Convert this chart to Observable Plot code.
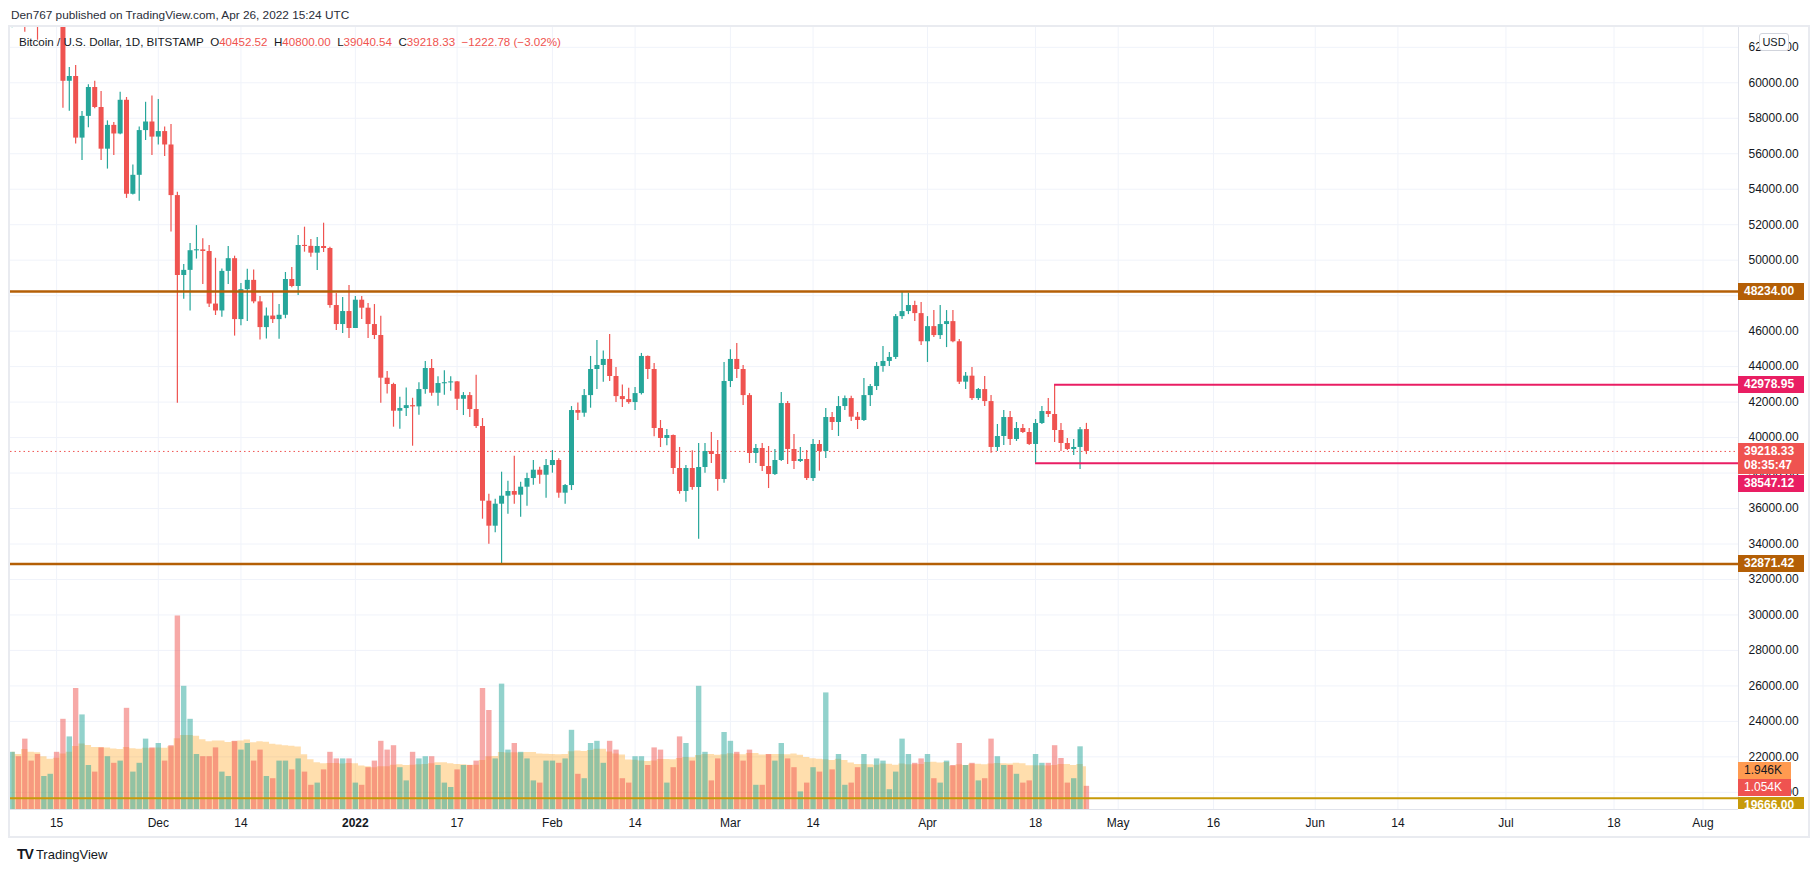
<!DOCTYPE html>
<html><head><meta charset="utf-8">
<script src="https://cdn.jsdelivr.net/npm/d3@7"></script>
<script src="https://cdn.jsdelivr.net/npm/@observablehq/plot@0.6"></script>
<style>
body{margin:0;background:#fff;font-family:"Liberation Sans",Arial,sans-serif;color:#131722}
#wrap{position:relative;width:1818px;height:872px;overflow:hidden;background:#fff}
#box{position:absolute;left:8px;top:25px;width:1802px;height:813px;border:2px solid #e9ebf0;box-sizing:border-box}
#chart{position:absolute;left:0;top:0}
#hdr{position:absolute;left:11px;top:7px;font-size:11.8px;line-height:16px;color:#2a2e39;white-space:nowrap}
#legend{position:absolute;left:19px;top:34px;font-size:11.6px;line-height:16px;color:#131722;white-space:nowrap}
#legend .r{color:#ef5350}
#usd{position:absolute;left:1759px;top:33px;width:28px;height:16px;border:1px solid #d1d4dc;border-radius:3px;background:#fff;font-size:11px;line-height:16px;text-align:center;color:#131722}
.badge{position:absolute;left:1738px;height:17px;font-size:12px;line-height:17px;font-weight:bold;color:#fff;padding-left:6px;box-sizing:border-box;white-space:nowrap;overflow:hidden}
#logo{position:absolute;left:17px;top:846px;font-size:13px;line-height:16px;color:#131722;white-space:nowrap}
#logo b{font-size:14px;letter-spacing:-1px;margin-right:3px}
</style></head><body>
<div id="wrap">
<div id="box"></div>
<div id="chart"></div>
<div id="hdr">Den767 published on TradingView.com, Apr 26, 2022 15:24 UTC</div>
<div id="legend"></div>
<div id="usd">USD</div>
<div id="logo"><b>TV</b>TradingView</div>
</div>
<script>
// ---- data (Bitcoin / USD, 1D, Bitstamp), 2021-11-08 .. 2022-04-26 ----
const open = [63300,67550,66950,64900,64800,64150,64400,65500,63600,60085,60355,56882,58106,59735,58608,56257,57599,57114,59014,53715,54784,57306,57790,
56938,57250,56494,53641,49137,49425,50534,50580,50490,47526,47137,49368,50084,46651,48337,48862,47650,46200,46850,46650,46894,48911,48517,50827,50780,50394,50770,50657,47443,46372,47105,
46147,47744,47293,46372,45754,43347,42990,41486,41636,41800,41730,42706,43893,42499,43046,43080,43140,42160,42367,41580,40624,36413,35004,36245,36696,36959,36752,37202,37690,38160,37878,
38423,38707,36865,37296,41524,41373,42367,43837,44065,44404,43442,42311,42141,41974,42480,44573,43837,40510,39946,40115,38256,36959,38256,37184,38312,39216,39047,37634,
43160,44404,43837,42367,39103,39385,38369,37916,38707,41918,39329,38650,38763,37690,39611,39216,41130,40850,41749,42198,41148,40962,42367,42876,44009,44291,44516,46818,47103,47443,46989,
45401,46255,45750,46372,46537,45401,43122,43461,42198,42706,42029,39442,40059,41130,39893,40510,40285,39611,40793,41468,41299,40397,39667,39329,39442,40452.52];
const high = [67800,68500,69000,65600,65450,64900,65500,66300,63600,60862,60975,58377,59887,60085,59503,57852,57756,59461,59171,55366,57502,58901,59250,
59053,57502,57655,53833,49757,50941,51949,51212,50823,50107,49504,50766,50225,48686,49485,49450,47950,47300,48177,47500,49306,49588,51391,51861,51166,51278,52085,50733,48121,47894,48572,
47950,47950,47556,47500,46838,43723,43065,42273,42800,42216,43085,44291,44404,43423,43760,43423,43160,42537,42537,43517,41073,36807,36527,38048,37540,38950,37484,37992,38707,38330,38763,
39272,38803,37352,41749,41955,42706,44573,45476,44874,45814,43950,42970,42782,42820,44743,44600,44178,40962,40454,40150,39442,38423,39253,39667,39667,40285,39836,44235,
44950,45306,44065,42480,39611,39667,39498,39329,42537,42029,40172,39442,39272,39893,39836,41636,41412,42311,42349,42330,41412,43329,42989,44235,45138,44799,46932,48197,48140,47688,47613,
46818,47160,47443,47160,47160,45523,43668,43950,42763,43442,42367,40736,41524,41468,40849,40736,40510,41017,41749,42198,42978.95,40792,39949,39893,40566,40800];
const low = [63100,66300,62850,64100,62400,63400,63600,63500,58568,58394,56550,55620,57463,58530,55620,55135,55907,57074,53483,53675,53326,56747,55907,
56494,55851,51584,41933,47796,47137,50062,48630,47329,46882,46787,48630,45720,46302,46550,47550,45500,45550,46428,45546,46700,48441,48009,50451,50169,49418,50432,47293,46034,45866,45584,
46147,46654,45584,45528,41934,42450,40585,40472,41185,39513,41260,42443,42330,41768,42386,42612,41524,41242,41129,40510,35399,33989,34629,32884,35681,36245,35512,36133,37315,37371,36583,
37992,36583,36245,37014,40962,41148,41655,42706,43122,43160,41974,41693,41880,41524,42400,43273,40041,39442,39536,37916,36809,36358,37033,34271,37992,38537,36978,37428,
42820,43329,41806,38537,38537,38086,37127,37860,38650,38480,38199,38593,37578,37522,38105,38820,40397,40059,41524,40906,40454,40906,41749,42650,43685,44009,44404,46650,46932,46537,45194,
44235,45636,45523,45073,45350,42989,42707,42085,42085,41749,39122,39216,39555,39555,39780,40228,39555,38547.12,40736,41130,39723,39216,39272,38988,38199,39040.54];
const close = [67550,66950,64900,64800,64150,64400,65500,63600,60085,60355,56882,58106,59735,58608,56257,57599,57114,59014,53715,54784,57306,57790,56938,
57250,56494,53641,49137,49425,50534,50580,50490,47526,47137,49368,50084,46651,48337,48862,47650,46200,46850,46650,46894,48911,48517,50827,50780,50394,50770,50657,47443,46372,47105,46147,
47744,47293,46372,45754,43347,42990,41486,41636,41800,41730,42706,43893,42499,43046,43080,43140,42160,42367,41580,40624,36413,35004,36245,36696,36959,36752,37202,37690,38160,37878,38423,
38707,36865,37296,41524,41373,42367,43837,44065,44404,43442,42311,42141,41974,42480,44573,43837,40510,39946,40115,38256,36959,38256,37184,38312,39216,39047,37634,43160,
44404,43837,42367,39103,39385,38369,37916,38707,41918,39329,38650,38763,37690,39611,39216,41130,40850,41749,42198,41148,40962,42367,42876,44009,44291,44516,46818,47103,47443,46989,45401,
46255,45750,46372,46537,45401,43122,43461,42198,42706,42029,39442,40059,41130,39893,40510,40285,39611,40793,41468,41299,40397,39667,39329,39442,40441.11,39218.33];
// volume, thousand BTC (one row per week, Mon..Sun)
const volume = [
2.6,2.4,3.2,2.2,2.5,1.5,1.6,
2.6,4.1,3.3,5.5,4.3,2.0,1.7,
2.8,2.4,2.1,2.2,4.6,1.7,2.1,
3.2,2.8,3.0,2.2,2.9,8.8,5.6,
4.1,2.5,2.4,2.4,2.8,1.7,1.5,
3.1,2.7,3.0,2.2,2.7,1.5,1.4,
2.2,2.2,1.8,2.3,1.7,1.1,1.2,
1.8,2.6,2.3,2.3,2.3,1.2,1.1,
1.9,2.2,3.1,2.7,2.9,1.9,1.3,
2.6,2.3,2.4,2.4,2.0,1.2,1.0,
1.8,2.0,2.0,2.2,5.5,4.5,2.3,
5.7,2.7,3.0,2.6,2.3,1.3,1.2,
2.2,2.2,2.1,2.3,3.6,1.6,1.4,
3.0,3.1,2.1,3.1,2.7,1.4,1.2,
2.4,2.4,2.0,2.8,2.7,1.2,1.9,
3.3,3.0,2.2,5.6,2.6,1.3,2.3,
3.5,3.1,2.6,2.2,2.7,1.1,1.1,
2.5,2.2,3.0,2.3,1.9,0.8,1.2,
1.9,1.7,5.3,1.8,2.5,1.1,1.2,
1.9,2.5,1.9,2.3,2.2,0.9,1.7,
3.2,2.5,2.1,2.3,2.5,1.4,1.2,
2.2,2.0,3.0,2.0,2.1,1.3,1.4,
3.2,2.4,2.0,2.0,1.6,1.2,1.3,
2.5,2.1,2.1,2.9,2.32,1.2,1.4,
2.85,1.054];

const priceTicks = d3.range(20000, 62001, 2000);
const xTickDates = ["2021-11-15","2021-12-01","2021-12-14","2022-01-01","2022-01-17","2022-02-01","2022-02-14","2022-03-01","2022-03-14","2022-04-01","2022-04-18","2022-05-01","2022-05-16","2022-06-01","2022-06-14","2022-07-01","2022-07-18","2022-08-01"];
const xTickLabels = ["15","Dec","14","2022","17","Feb","14","Mar","14","Apr","18","May","16","Jun","14","Jul","18","Aug"];
const levels = [48234.00, 32871.42, 19666.00];
const zoneHigh = {value: 42978.95, from: "2022-04-21"};
const zoneLow = {value: 38547.12, from: "2022-04-18"};
const lastPrice = 39218.33;
const countdown = "08:35:47";
const maLength = 20;

// ---- build table ----
const dates = d3.utcDay.range(new Date(Date.UTC(2021,10,8)), new Date(Date.UTC(2022,3,27)));
const data = dates.map((date,i)=>({date, o:open[i], h:high[i], l:low[i], c:close[i], v:volume[i], up: close[i]>=open[i]}));
const MINB = 30;
data.forEach(d=>{ let a=Math.min(d.o,d.c), b=Math.max(d.o,d.c); if(b-a<2*MINB){const m=(a+b)/2; a=m-MINB; b=m+MINB;} d.b1=a; d.b2=b; });
// volume moving average indicator
data.forEach((d,i)=>{ const s=data.slice(Math.max(0,i-maLength+1),i+1); d.ma=d3.mean(s,e=>e.v); });
const volumeMA = data[data.length-1].ma;

const DAY=864e5, dec1=Date.UTC(2021,11,1);
const xDomain=[new Date(dec1-23.25*DAY), new Date(dec1+248.58*DAY)];
const yDomain=[19033, 63117];
// volume overlay in the price pane: thousand BTC -> price-space
const VBASE=19033, VK=1240;
const vy = v => VBASE + v*VK;

const UP="#26a69a", DN="#ef5350";
const ticks = xTickDates.map((s,i)=>({date:new Date(s), label:xTickLabels[i]}));
const chart = Plot.plot({
  width:1818, height:872, marginLeft:10, marginRight:80, marginTop:27, marginBottom:63,
  x:{type:"utc", domain:xDomain, axis:null},
  y:{type:"linear", domain:yDomain, axis:null},
  style:{fontFamily:"Liberation Sans, Arial, sans-serif", fontSize:"12px", color:"#131722", background:"transparent"},
  marks:[
    Plot.gridY(priceTicks,{stroke:"#f0f3fa", strokeOpacity:1}),
    Plot.gridX(ticks.map(d=>d.date),{stroke:"#f0f3fa", strokeOpacity:1}),
    // volume MA area + volume bars
    Plot.areaY(data,{x:"date", y1:()=>VBASE, y2:d=>vy(d.ma), fill:"#ff9800", fillOpacity:0.32, curve:"step", clip:true}),
    Plot.ruleX(data,{x:"date", y1:()=>VBASE, y2:d=>vy(d.v), stroke:d=>d.up?UP:DN, strokeOpacity:0.5, strokeWidth:5.4, clip:true}),
    // current price line
    Plot.ruleY([lastPrice],{stroke:DN, strokeWidth:1, strokeDasharray:"1.5,3"}),
    // candles
    Plot.ruleX(data,{x:"date", y1:"l", y2:"h", stroke:d=>d.up?UP:DN, strokeWidth:1.2, clip:true}),
    Plot.ruleX(data,{x:"date", y1:"b1", y2:"b2", stroke:d=>d.up?UP:DN, strokeWidth:5, clip:true}),
    // horizontal levels
    Plot.ruleY(levels.slice(0,2),{stroke:"#b45f06", strokeWidth:2.6}),
    Plot.ruleY(levels.slice(2),{stroke:"#c79a0a", strokeWidth:2}),
    Plot.ruleY([zoneHigh, zoneLow],{y:"value", x1:d=>new Date(d.from), x2:()=>xDomain[1], stroke:"#e91e63", strokeWidth:2}),
    // axes
    Plot.axisY(priceTicks,{anchor:"right", tickSize:0, tickPadding:10, tickFormat:d=>d.toFixed(2), fontSize:12, label:null, fill:"#131722"}),
    Plot.text(ticks.filter(d=>d.label!=="2022"),{x:"date", text:"label", frameAnchor:"bottom", dy:14, fontSize:12, fill:"#131722", lineAnchor:"middle"}),
    Plot.text(ticks.filter(d=>d.label==="2022"),{x:"date", text:"label", frameAnchor:"bottom", dy:14, fontSize:12, fontWeight:"bold", fill:"#131722", lineAnchor:"middle"}),
    Plot.ruleX([xDomain[1]],{stroke:"#e0e3eb"}),
    Plot.ruleY([yDomain[0]],{stroke:"#e0e3eb"})
  ]
});
document.getElementById("chart").appendChild(chart);

// legend
const L=data[data.length-1], P=data[data.length-2];
const chg=L.c-P.c, pct=chg/P.c*100;
const f2=v=>v.toFixed(2), sg=v=>(v<0?"\u2212":"+")+Math.abs(v).toFixed(2);
document.getElementById("legend").innerHTML =
 `Bitcoin / U.S. Dollar, 1D, BITSTAMP&nbsp;&nbsp;O<span class="r">${f2(L.o)}</span>&nbsp;&nbsp;H<span class="r">${f2(L.h)}</span>&nbsp;&nbsp;L<span class="r">${f2(L.l)}</span>&nbsp;&nbsp;C<span class="r">${f2(L.c)}</span>&nbsp;&nbsp;<span class="r">${sg(chg)} (${sg(pct)}%)</span>`;

// price-axis badges placed through the y scale (stacked like the platform does)
const ys = chart.scale("y");
const wrap=document.getElementById("wrap");
function badge(value, text, bg, fg, w, h, dy){
  const d=document.createElement("div"); d.className="badge";
  const yy=ys.apply(value);
  d.style.top=(yy-h/2+(dy||0))+"px"; d.style.height=h+"px"; d.style.width=w+"px";
  d.style.background=bg; d.style.color=fg; d.innerHTML=text; wrap.appendChild(d); return d;
}
badge(levels[0], f2(levels[0]), "#b45f06", "#fff", 66, 17);
badge(zoneHigh.value, f2(zoneHigh.value), "#e91e63", "#fff", 66, 17);
const lb=badge(lastPrice, f2(lastPrice)+"<br>"+countdown, "#ef5350", "#fff", 66, 31, 8);
lb.style.lineHeight="14px"; lb.style.paddingTop="1px";
badge(zoneLow.value, f2(zoneLow.value), "#e91e63", "#fff", 66, 17, 21);
badge(levels[1], f2(levels[1]), "#b45f06", "#fff", 66, 17);
const b1=badge(vy(volumeMA), volumeMA.toFixed(3)+"K", "#ff9a50", "#131722", 53, 17, 4); b1.style.fontWeight="normal";
const b2=badge(vy(L.v), L.v.toFixed(3)+"K", "#ef5350", "#fff", 53, 17, 2); b2.style.fontWeight="normal";
const b3=badge(levels[2], f2(levels[2]), "#c79a0a", "#fff", 66, 12, 5); b3.style.lineHeight="16px";
</script>
</body></html>
